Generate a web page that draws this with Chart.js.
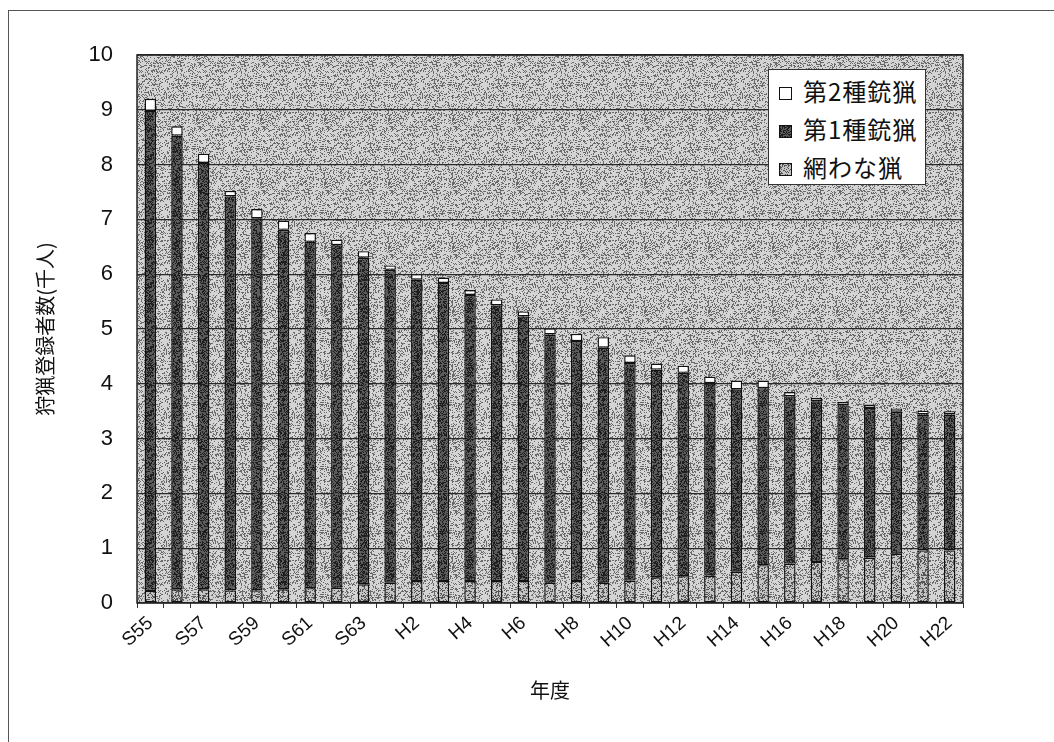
<!DOCTYPE html>
<html lang="ja">
<head>
<meta charset="utf-8">
<title>狩猟登録者数の推移</title>
<script src="https://cdn.jsdelivr.net/npm/chart.js@4.4.1/dist/chart.umd.min.js"></script>
<style>
  html, body { margin: 0; padding: 0; background: #fff; }
  #wrap { position: relative; width: 1054px; height: 742px; overflow: hidden; }
  #frame { position: absolute; left: 8px; top: 10px; right: 0; bottom: 0;
           border-top: 1px solid #555; border-left: 1px solid #555; }
  #chart { position: absolute; left: 0; top: 0; }
  #legend { position: absolute; left: 768px; top: 69px; width: 158px; height: 116px;
            background: #fff; border: 1px solid #333; box-sizing: border-box;
            font-family: "Noto Sans CJK JP", sans-serif; font-size: 24px; color: #111; }
  .item { position: absolute; left: 10px; height: 30px; line-height: 30px; letter-spacing: 1px; }
  .mark { display: inline-block; width: 11px; height: 11px; border: 1px solid #111;
          margin-right: 11px; vertical-align: 1px; background: #fff; }
</style>
</head>
<body>
<div id="wrap">
  <div id="frame"></div>
  <canvas id="chart" width="1054" height="742"></canvas>
  <div id="legend">
    <div class="item" style="top:6px"><span class="mark"></span>第2種銃猟</div>
    <div class="item" style="top:44px"><span class="mark" id="mk1"></span>第1種銃猟</div>
    <div class="item" style="top:82px"><span class="mark" id="mk0"></span>網わな猟</div>
  </div>
</div>
<script>
// 年度
const years = ['S55', 'S56', 'S57', 'S58', 'S59', 'S60', 'S61', 'S62', 'S63',
  'H1', 'H2', 'H3', 'H4', 'H5', 'H6', 'H7', 'H8', 'H9', 'H10', 'H11', 'H12',
  'H13', 'H14', 'H15', 'H16', 'H17', 'H18', 'H19', 'H20', 'H21', 'H22'];

// 網わな猟 (千人)
const amiWana = [0.22, 0.25, 0.25, 0.23, 0.23, 0.25, 0.27, 0.28, 0.34, 0.37, 0.40,
  0.40, 0.40, 0.40, 0.40, 0.37, 0.40, 0.37, 0.41, 0.47, 0.49, 0.50, 0.57, 0.69,
  0.72, 0.75, 0.80, 0.83, 0.90, 0.96, 0.96];

// 第1種銃猟 (千人)
const dai1 = [8.76, 8.28, 7.78, 7.19, 6.79, 6.56, 6.32, 6.25, 5.96, 5.71, 5.50,
  5.44, 5.22, 5.03, 4.83, 4.53, 4.38, 4.29, 3.97, 3.79, 3.71, 3.51, 3.33, 3.23,
  3.05, 2.93, 2.81, 2.73, 2.59, 2.48, 2.48];

// 第2種銃猟 (千人)
const dai2 = [0.22, 0.17, 0.17, 0.10, 0.17, 0.17, 0.16, 0.10, 0.12, 0.08, 0.10,
  0.10, 0.09, 0.11, 0.09, 0.11, 0.13, 0.19, 0.14, 0.11, 0.13, 0.12, 0.16, 0.14,
  0.08, 0.06, 0.06, 0.06, 0.06, 0.07, 0.06];

const yTicks = [0, 1, 2, 3, 4, 5, 6, 7, 8, 9, 10];

// 網点っぽい質感 (見た目だけ、データとは無関係)
function grain(base, dot, density) {
  const n = 64;
  const c = document.createElement('canvas');
  c.width = n; c.height = n;
  const g = c.getContext('2d');
  g.fillStyle = base;
  g.fillRect(0, 0, n, n);
  g.fillStyle = dot;
  for (let i = 0; i < n * n; i++) {
    let h = (i + 0x9e3779b9) >>> 0;
    h ^= h >>> 16; h = Math.imul(h, 0x7feb352d);
    h ^= h >>> 15; h = Math.imul(h, 0x846ca68b);
    h ^= h >>> 16;
    if ((h >>> 0) / 4294967296 < density) g.fillRect(i % n, Math.floor(i / n), 1, 1);
  }
  return c;
}

const texBg = grain('#d4d4d4', '#6a6a6a', 0.28);
const texDark = grain('#5c5c5c', '#1e1e1e', 0.45);
const texLight = grain('#c4c4c4', '#555', 0.35);
const ctx0 = document.getElementById('chart').getContext('2d');
const patBg = ctx0.createPattern(texBg, 'repeat');
const patDark = ctx0.createPattern(texDark, 'repeat');
const patLight = ctx0.createPattern(texLight, 'repeat');
document.getElementById('mk1').style.backgroundImage = 'url(' + texDark.toDataURL() + ')';
document.getElementById('mk0').style.backgroundImage = 'url(' + texLight.toDataURL() + ')';

// プロットエリアの背景と枠
const plotArea = {
  id: 'plotArea',
  beforeDraw(chart) {
    const { ctx, chartArea: a } = chart;
    ctx.save();
    ctx.fillStyle = patBg;
    ctx.fillRect(a.left, a.top, a.right - a.left, a.bottom - a.top);
    ctx.restore();
  },
  afterDraw(chart) {
    const { ctx, chartArea: a } = chart;
    ctx.save();
    ctx.strokeStyle = '#222';
    ctx.lineWidth = 1.5;
    ctx.strokeRect(a.left, a.top, a.right - a.left, a.bottom - a.top);
    ctx.restore();
  }
};

const barStyle = {
  borderColor: '#111',
  borderWidth: 1.4,
  borderSkipped: false,
  barPercentage: 0.43,
  categoryPercentage: 1.0
};

new Chart(ctx0, {
  type: 'bar',
  data: {
    labels: years,
    datasets: [
      { label: '網わな猟', data: amiWana, backgroundColor: patLight, ...barStyle },
      { label: '第1種銃猟', data: dai1, backgroundColor: patDark, ...barStyle },
      { label: '第2種銃猟', data: dai2, backgroundColor: '#ffffff', ...barStyle }
    ]
  },
  options: {
    responsive: false,
    animation: false,
    layout: { padding: { left: 0, right: 91, top: 55, bottom: 0 } },
    plugins: { legend: { display: false }, tooltip: { enabled: false } },
    scales: {
      x: {
        stacked: true,
        afterFit: (s) => { s.height = 139; },
        grid: { display: true, drawOnChartArea: false, tickLength: 5, color: '#333', offset: true },
        border: { display: false },
        ticks: {
          autoSkip: false,
          minRotation: 42,
          maxRotation: 42,
          padding: 4,
          color: '#111',
          font: { family: '"Liberation Sans", Arial, sans-serif', size: 19 },
          callback: (v, i) => (i % 2 === 0 ? years[i] : '')
        },
        title: {
          display: true,
          text: '年度',
          color: '#111',
          font: { family: '"Noto Sans CJK JP", sans-serif', size: 20 },
          padding: { top: 0, bottom: 40 }
        }
      },
      y: {
        stacked: true,
        min: 0,
        max: 10,
        afterFit: (s) => { s.width = 137; },
        afterBuildTicks: (s) => { s.ticks = yTicks.map((v) => ({ value: v })); },
        grid: { color: '#2a2a2a', lineWidth: 1.2, drawTicks: false },
        border: { display: false },
        ticks: {
          padding: 24,
          color: '#111',
          font: { family: '"Liberation Sans", Arial, sans-serif', size: 22 }
        },
        title: {
          display: true,
          text: '狩猟登録者数(千人)',
          color: '#111',
          font: { family: '"Noto Sans CJK JP", sans-serif', size: 20 },
          padding: { top: 33, bottom: 0 }
        }
      }
    }
  },
  plugins: [plotArea]
});
</script>
</body>
</html>
